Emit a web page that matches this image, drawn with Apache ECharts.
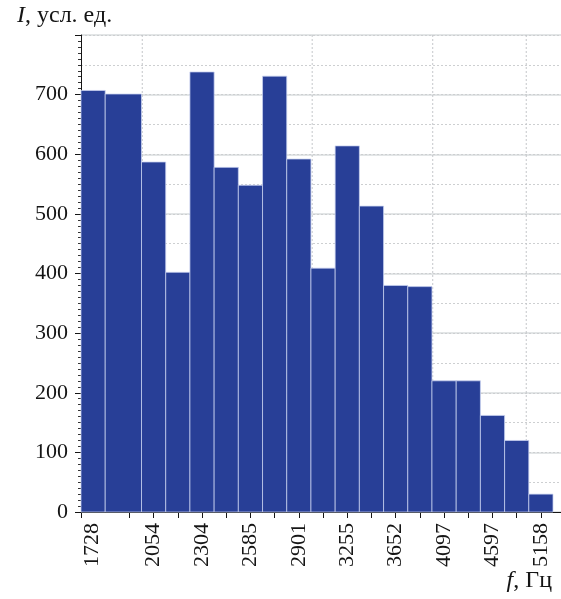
<!DOCTYPE html>
<html>
<head>
<meta charset="utf-8">
<script src="https://cdn.jsdelivr.net/npm/echarts@6/dist/echarts.min.js"></script>
<style>
  html, body { margin: 0; padding: 0; background: #ffffff; }
  #chart { width: 561px; height: 599px; }
</style>
</head>
<body>
<div id="chart"></div>
<script>
// Frequency bands, measured in 1/12-octave steps from the 1728 Hz origin
const bandEdges = [0, 1, 2.5, 3.5, 4.5, 5.5, 6.5, 7.5, 8.5, 9.5, 10.5, 11.5, 12.5, 13.5, 14.5, 15.5, 16.5, 17.5, 18.5, 19.5];
// Intensity per band, arbitrary units
const intensity = [707, 701, 587, 402, 738, 578, 548, 731, 592, 409, 614, 513, 380, 378, 220, 220, 162, 120, 30];
// Frequency tick labels and where they sit on the band scale
const tickLabels = ['1728', '2054', '2304', '2585', '2901', '3255', '3652', '4097', '4597', '5158'];
const tickLabelPos = [0.45, 3, 5, 7, 9, 11, 13, 15, 17, 19];
const tickPos = [0, 2, 3, 4, 5, 6, 7, 8, 9, 10, 11, 12, 13, 14, 15, 16, 17, 18, 19];
// Round frequencies marked by dotted guides
const baseFreq = 1728;
const guideFreqs = [2000, 3000, 4000, 5000];

const FONT = '"Liberation Serif", "Times New Roman", serif';
const FS = 22;
const NAME_FS = 24;
const INK = '#151515';
const BAR = '#283f97';

const chart = echarts.init(document.getElementById('chart'), null, { renderer: 'canvas' });

const barData = intensity.map((v, i) => [bandEdges[i], bandEdges[i + 1], v]);
const guideData = guideFreqs.map(f => [12 * Math.log2(f / baseFreq)]);

chart.setOption({
  animation: false,
  backgroundColor: '#ffffff',
  grid: { left: 81, right: 0, top: 35, bottom: 87, containLabel: false },
  xAxis: {
    type: 'value',
    min: 0,
    max: 19.83,
    axisLine: { show: true, onZero: false, lineStyle: { color: INK, width: 1 } },
    axisTick: { show: true, length: 6, lineStyle: { color: INK, width: 1 }, customValues: tickPos },
    axisLabel: {
      show: true,
      rotate: 90,
      margin: 11,
      color: INK,
      fontFamily: FONT,
      fontSize: FS,
      customValues: tickLabelPos,
      formatter: function (val) {
        let best = 0;
        for (let i = 1; i < tickLabelPos.length; i++) {
          if (Math.abs(tickLabelPos[i] - val) < Math.abs(tickLabelPos[best] - val)) best = i;
        }
        return tickLabels[best];
      }
    },
    splitLine: { show: false },
    minorSplitLine: { show: false }
  },
  yAxis: [{
    type: 'value',
    min: 0,
    max: 800,
    interval: 100,
    axisLine: { show: true, lineStyle: { color: INK, width: 1 } },
    axisTick: { show: true, length: 6, lineStyle: { color: INK, width: 1 } },
    minorTick: { show: true, splitNumber: 10, length: 3, lineStyle: { color: '#333333', width: 1 } },
    axisLabel: { color: INK, fontFamily: FONT, fontSize: FS, margin: 13, showMaxLabel: false },
    splitLine: { show: true, lineStyle: { color: '#d8dcde', width: 1.5 } }
  }, {
    type: 'value',
    min: 0,
    max: 800,
    interval: 50,
    position: 'left',
    axisLine: { show: false },
    axisTick: { show: false },
    axisLabel: { show: false },
    splitLine: { show: true, lineStyle: { color: '#cdcfd1', width: 1, type: [2, 2] } }
  }],
  graphic: [{
    type: 'text',
    left: 17,
    top: 4,
    style: {
      text: '{i|I}, усл. ед.',
      fill: INK,
      font: NAME_FS + 'px ' + FONT,
      rich: {
        i: { fontStyle: 'italic', fontFamily: FONT, fontSize: NAME_FS, fill: INK }
      }
    }
  }, {
    type: 'text',
    right: 9,
    top: 569,
    style: {
      text: '{i|f}, Гц',
      fill: INK,
      font: NAME_FS + 'px ' + FONT,
      rich: {
        i: { fontStyle: 'italic', fontFamily: FONT, fontSize: NAME_FS, fill: INK }
      }
    }
  }],
  series: [{
    name: 'guides',
    type: 'custom',
    z: 1,
    silent: true,
    data: guideData,
    encode: { x: 0 },
    renderItem: function (params, api) {
      const cs = params.coordSys;
      const x = api.coord([api.value(0), 0])[0];
      return {
        type: 'line',
        shape: { x1: x, y1: cs.y, x2: x, y2: cs.y + cs.height },
        style: { stroke: '#c4c7ca', lineWidth: 1, lineDash: [2, 2] }
      };
    }
  }, {
    name: 'intensity',
    type: 'custom',
    z: 3,
    data: barData,
    encode: { x: [0, 1], y: 2 },
    renderItem: function (params, api) {
      const pTop = api.coord([api.value(0), api.value(2)]);
      const pBot = api.coord([api.value(1), 0]);
      return {
        type: 'rect',
        shape: { x: pTop[0], y: pTop[1], width: pBot[0] - pTop[0], height: pBot[1] - pTop[1] },
        style: { fill: BAR, stroke: 'rgba(200, 210, 240, 0.75)', lineWidth: 1 }
      };
    }
  }]
});
</script>
</body>
</html>
